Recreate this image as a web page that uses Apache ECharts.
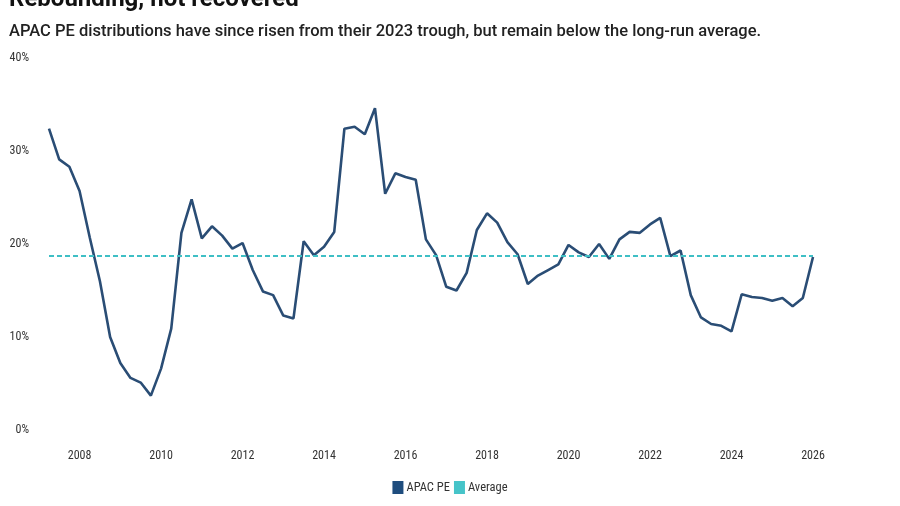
<!DOCTYPE html>
<html>
<head>
<meta charset="utf-8">
<script src="https://cdn.jsdelivr.net/npm/echarts@6/dist/echarts.min.js"></script>
<style>
  html, body { margin: 0; padding: 0; background: #fff; }
  #chart { width: 900px; height: 506px; }
</style>
</head>
<body>
<div id="chart"></div>
<script>
// quarter-end dates, 2007 Q1 .. 2025 Q4 (year fraction)
const startYear = 2007.25
const quarterStep = 0.25

// APAC PE distributions, % of NAV
const apacPe = [
  32.4, 29.1, 28.3, 25.7, 20.7, 16.0, 10.0, 7.2, 5.6, 5.1,
  3.7, 6.6, 10.9, 21.2, 24.8, 20.6, 21.9, 20.9, 19.5, 20.1,
  17.2, 14.9, 14.5, 12.3, 12.0, 20.3, 18.8, 19.7, 21.3, 32.4,
  32.6, 31.8, 34.6, 25.4, 27.6, 27.2, 26.9, 20.5, 18.8, 15.4,
  15.0, 16.9, 21.5, 23.3, 22.3, 20.2, 18.9, 15.7, 16.6, 17.2,
  17.8, 19.9, 19.1, 18.6, 20.0, 18.4, 20.5, 21.3, 21.2, 22.1,
  22.8, 18.7, 19.3, 14.5, 12.1, 11.4, 11.2, 10.6, 14.6, 14.3,
  14.2, 13.9, 14.2, 13.3, 14.2, 18.6
]
const averageValue = 18.7

const yearTicks = [2008, 2010, 2012, 2014, 2016, 2018, 2020, 2022, 2024, 2026]

const peData = apacPe.map((v, i) => [startYear + i * quarterStep, v])
const lastYear = startYear + (apacPe.length - 1) * quarterStep
const avgData = [[startYear, averageValue], [lastYear, averageValue]]

const labelFont = '"Liberation Sans Narrow", "Roboto Condensed", Roboto, sans-serif'

var myChart = echarts.init(document.getElementById('chart'))
const option = {
  animation: false,
  title: [
    {
      text: 'Rebounding, not recovered',
      left: 9,
      top: -12,
      padding: 0,
      textStyle: { fontFamily: 'Roboto', fontSize: 24, fontWeight: 'bold', color: '#111' }
    },
    {
      text: 'APAC PE distributions have since risen from their 2023 trough, but remain below the long-run average.',
      left: 9,
      top: 23,
      padding: 0,
      textStyle: { fontFamily: 'Roboto', fontSize: 16.5, fontWeight: 500, color: '#222' }
    }
  ],
  legend: {
    bottom: 7,
    left: 'center',
    icon: 'rect',
    itemWidth: 11,
    itemHeight: 13,
    itemGap: 4,
    textStyle: { fontFamily: labelFont, fontSize: 12.5, color: '#333', padding: [0, 0, 0, -2] },
    data: ['APAC PE', 'Average']
  },
  grid: { left: 49, right: 87, top: 58, bottom: 76, containLabel: false },
  xAxis: {
    type: 'value',
    min: startYear,
    max: lastYear,
    axisLine: { show: false },
    axisTick: { show: false },
    splitLine: { show: false },
    axisLabel: {
      customValues: yearTicks,
      margin: 20,
      fontFamily: labelFont,
      fontSize: 12,
      color: '#333',
      formatter: (v) => String(Math.round(v))
    }
  },
  yAxis: {
    type: 'value',
    min: 0,
    max: 40,
    interval: 10,
    axisLine: { show: false },
    axisTick: { show: false },
    splitLine: { show: false },
    axisLabel: {
      margin: 20,
      fontFamily: labelFont,
      fontSize: 12,
      color: '#333',
      formatter: '{value}%'
    }
  },
  series: [
    {
      name: 'APAC PE',
      type: 'line',
      data: peData,
      symbol: 'none',
      lineStyle: { color: '#2a4d75', width: 2.6 },
      itemStyle: { color: '#1f4d7e' },
      emphasis: { disabled: true }
    },
    {
      name: 'Average',
      type: 'line',
      data: avgData,
      symbol: 'none',
      lineStyle: { color: '#3fbfc5', width: 2, type: [5, 3] },
      itemStyle: { color: '#46c4c9' },
      emphasis: { disabled: true }
    }
  ]
}
myChart.setOption(option)
</script>
</body>
</html>
